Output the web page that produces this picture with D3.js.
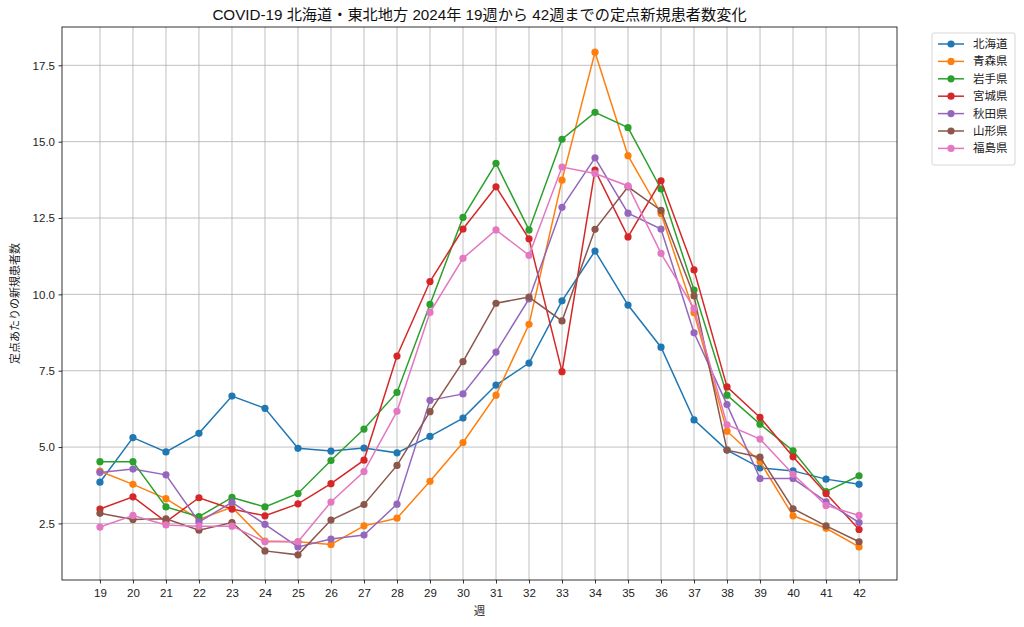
<!DOCTYPE html>
<html><head><meta charset="utf-8">
<script src="https://cdn.jsdelivr.net/npm/d3@7"></script>
<style>body{margin:0;background:#fff;} text{font-family:"Liberation Sans","Noto Sans CJK JP",sans-serif;}</style>
</head><body><svg id="c" width="1024" height="627"></svg>
<script>
const weeks = [19,20,21,22,23,24,25,26,27,28,29,30,31,32,33,34,35,36,37,38,39,40,41,42];
const regions = ["北海道","青森県","岩手県","宮城県","秋田県","山形県","福島県"];
const colors = ["#1f77b4","#ff7f0e","#2ca02c","#d62728","#9467bd","#8c564b","#e377c2"];
const hokkaido = [3.85,5.31,4.84,5.45,6.67,6.27,4.96,4.87,4.97,4.81,5.35,5.95,7.03,7.75,9.79,11.42,9.65,8.27,5.89,4.90,4.32,4.22,3.95,3.78];
const aomori   = [4.21,3.78,3.31,2.63,3.03,1.92,1.90,1.81,2.42,2.67,3.88,5.15,6.70,9.02,13.74,17.93,14.54,12.65,9.40,5.52,4.52,2.75,2.34,1.73];
const iwate    = [4.52,4.52,3.04,2.72,3.35,3.04,3.48,4.56,5.59,6.79,9.67,12.52,14.29,12.11,15.08,15.96,15.46,13.45,10.14,6.70,5.75,4.88,3.54,4.06];
const miyagi   = [2.97,3.37,2.55,3.34,2.97,2.75,3.14,3.80,4.57,7.98,10.42,12.14,13.52,11.82,7.47,14.07,11.88,13.72,10.80,6.97,5.97,4.68,3.48,2.30];
const akita    = [4.17,4.28,4.09,2.55,3.19,2.47,1.73,1.99,2.12,3.13,6.53,6.74,8.11,9.85,12.85,14.47,12.66,12.14,8.74,6.39,3.97,3.97,3.21,2.53];
const yamagata = [2.83,2.63,2.65,2.28,2.53,1.60,1.47,2.61,3.12,4.40,6.16,7.80,9.71,9.91,9.13,12.13,13.52,12.75,9.95,4.90,4.67,2.98,2.42,1.90];
const fukushima= [2.38,2.76,2.45,2.41,2.41,1.90,1.90,3.20,4.20,6.17,9.41,11.18,12.11,11.28,14.17,13.96,13.55,11.34,9.54,5.73,5.26,4.11,3.09,2.76];
const seriesValues = [hokkaido,aomori,iwate,miyagi,akita,yamagata,fukushima];
const yTicks = [2.5,5.0,7.5,10.0,12.5,15.0,17.5];
const title = "COVID-19 北海道・東北地方 2024年 19週から 42週までの定点新規患者数変化";

const svg = d3.select("#c");
const L=62,R=897,T=27,B=580;
const x = d3.scaleLinear().domain([17.85,43.15]).range([L,R]);
const y = d3.scaleLinear().domain([0.647,18.755]).range([B,T]);

const g = svg.append("g");
g.selectAll(".gx").data(weeks).enter().append("line")
 .attr("x1",d=>x(d)).attr("x2",d=>x(d)).attr("y1",T).attr("y2",B)
 .attr("stroke","#b0b0b0").attr("stroke-width",0.8);
g.selectAll(".gy").data(yTicks).enter().append("line")
 .attr("y1",d=>y(d)).attr("y2",d=>y(d)).attr("x1",L).attr("x2",R)
 .attr("stroke","#b0b0b0").attr("stroke-width",0.8);

const xa = svg.append("g").attr("transform",`translate(0,${B})`)
 .call(d3.axisBottom(x).tickValues(weeks).tickFormat(d3.format("d")).tickSize(3.5).tickPadding(3.5));
const ya = svg.append("g").attr("transform",`translate(${L},0)`)
 .call(d3.axisLeft(y).tickValues(yTicks).tickFormat(d3.format(".1f")).tickSize(3.5).tickPadding(3.5));
[xa,ya].forEach(a=>{a.select(".domain").remove();a.selectAll("text").attr("font-size",11.5).attr("fill","#222");a.selectAll("line").attr("stroke","#000").attr("stroke-width",0.8);});
xa.selectAll("text").attr("dy","0.9em");

const line = d3.line().x((d,i)=>x(weeks[i])).y(d=>y(d));
seriesValues.forEach((vals,k)=>{
  svg.append("path").datum(vals).attr("d",line).attr("fill","none").attr("stroke",colors[k]).attr("stroke-width",1.5);
  svg.append("g").selectAll("circle").data(vals).enter().append("circle")
   .attr("cx",(d,i)=>x(weeks[i])).attr("cy",d=>y(d)).attr("r",3.6).attr("fill",colors[k]);
});

svg.append("rect").attr("x",L).attr("y",T).attr("width",R-L).attr("height",B-T)
 .attr("fill","none").attr("stroke","#000").attr("stroke-width",0.8);

svg.append("text").attr("x",(L+R)/2).attr("y",20).attr("text-anchor","middle").attr("font-size",15.2).attr("fill","#111").text(title);
svg.append("text").attr("x",(L+R)/2).attr("y",615).attr("text-anchor","middle").attr("font-size",11.5).attr("fill","#222").text("週");
svg.append("text").attr("transform",`translate(19,${(T+B)/2}) rotate(-90)`).attr("text-anchor","middle").attr("font-size",11).attr("fill","#222").text("定点あたりの新規患者数");

const lg = svg.append("g");
lg.append("rect").attr("x",932).attr("y",33).attr("width",83).attr("height",132).attr("rx",2)
 .attr("fill","#fff").attr("stroke","#ccc").attr("stroke-width",0.8);
regions.forEach((r,k)=>{
  const yy = 44 + k*17.4;
  lg.append("line").attr("x1",938).attr("x2",964).attr("y1",yy).attr("y2",yy).attr("stroke",colors[k]).attr("stroke-width",1.5);
  lg.append("circle").attr("cx",951).attr("cy",yy).attr("r",3.6).attr("fill",colors[k]);
  lg.append("text").attr("x",973).attr("y",yy).attr("dy","0.35em").attr("font-size",11.5).attr("fill","#222").text(r);
});
</script></body></html>
